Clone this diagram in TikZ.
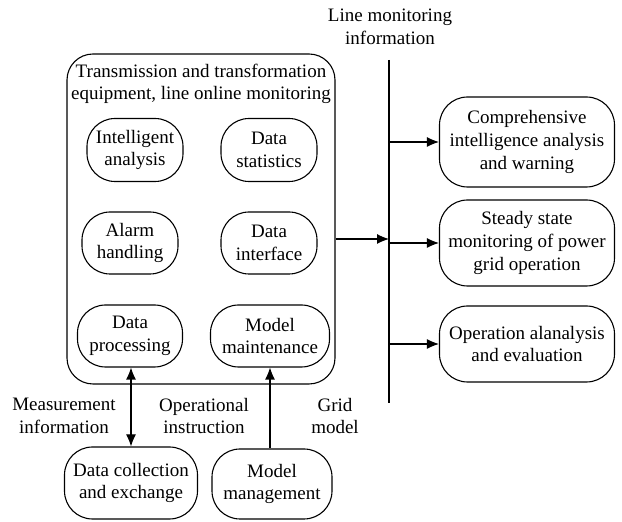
\documentclass[tikz,border=0pt]{standalone}
\usepackage{fontspec}
\setmainfont{Liberation Serif}
\usetikzlibrary{arrows.meta}

\begin{document}
\begin{tikzpicture}[x=0.5pt,y=-0.5pt,
		font=\fontsize{9.5}{11.3}\selectfont,
		line width=0.55pt,
		>={Latex[length=6pt,width=5pt]},
		box/.style={draw,rounded corners=14pt,align=center,inner sep=0pt},
		group/.style={draw,rounded corners=13pt,minimum width=134pt,minimum height=165pt}]
		\useasboundingbox (0,0) rectangle (622,522);
		\node (0) [group] at (201,219) {};
		\node (t) [align=center] at (201,84) {Transmission and transformation\\equipment, line online monitoring};
		\node (1) [box,minimum width=48pt,minimum height=31.5pt] at (135,150) {Intelligent\\analysis};
		\node (2) [box,minimum width=48pt,minimum height=31.5pt] at (269,150) {Data\\statistics};
		\node (3) [box,minimum width=48pt,minimum height=31pt] at (130,243) {Alarm\\handling};
		\node (4) [box,minimum width=48pt,minimum height=31pt] at (269,243) {Data\\interface};
		\node (5) [box,minimum width=52.5pt,minimum height=31pt] at (130,336) {Data\\processing};
		\node (6) [box,minimum width=59.5pt,minimum height=31pt] at (270,336) {Model\\maintenance};
		\node (7) [box,minimum width=87.5pt,minimum height=45pt] at (527,142) {Comprehensive\\intelligence analysis\\and warning};
		\node (8) [box,minimum width=87.5pt,minimum height=43pt] at (527,243) {Steady state\\monitoring of power\\grid operation};
		\node (9) [box,minimum width=87.5pt,minimum height=38pt] at (527,344) {Operation alanalysis\\and evaluation};
		\node (10) [box,minimum width=66.5pt,minimum height=36pt] at (131,483) {Data collection\\and exchange};
		\node (11) [box,minimum width=60pt,minimum height=35pt] at (272,484) {Model\\management};
		\node (l1) [align=center] at (390,27) {Line monitoring\\information};
		\node (l2) [align=center] at (64,416) {Measurement\\information};
		\node (l3) [align=center] at (204,416) {Operational\\instruction};
		\node (l4) [align=center] at (335,416) {Grid\\model};
		\coordinate (top) at (389,60);
		\coordinate (bot) at (389,403);
		\coordinate (j) at (389,239);
		\draw (top) -- (bot);
		\draw [->] (0.east |- j) -- (j);
		\draw [->] (top |- 7) -- (7);
		\draw [->] (top |- 8) -- (8);
		\draw [->] (top |- 9) -- (9);
		\draw [<->] (10.north) -- (10.north |- 5.south);
		\draw [->] (6.south |- 11.north) -- (6.south);
	\end{tikzpicture}
\end{document}
